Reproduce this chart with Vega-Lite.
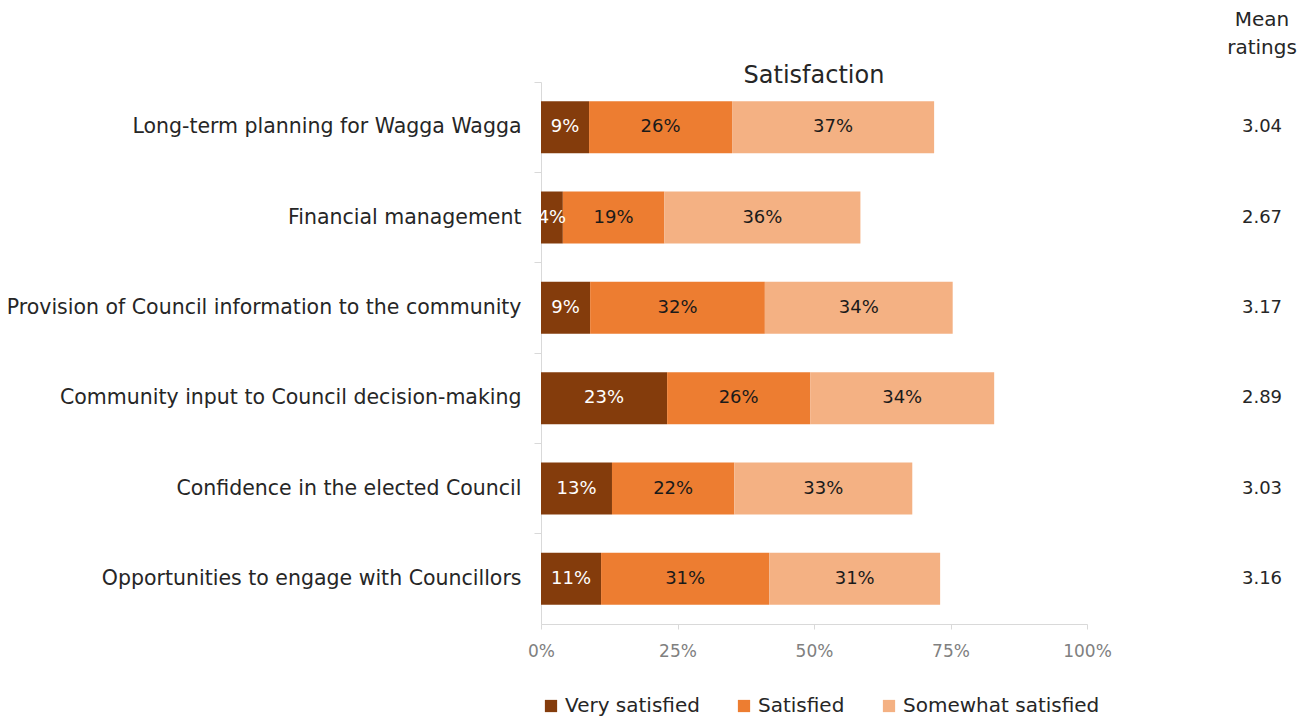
{
  "$schema": "https://vega.github.io/schema/vega-lite/v6.json",
  "background": "white",
  "padding": {"left": 6, "top": 10, "right": 5, "bottom": 0},
  "config": {
    "font": "DejaVu Sans",
    "view": {"stroke": null},
    "concat": {"spacing": 135}
  },
  "bounds": "flush",
  "datasets": {
    "sat": [
      {"item": "Long-term planning for Wagga Wagga", "level": "Very satisfied", "ord": 1, "pct": 0.088},
      {"item": "Long-term planning for Wagga Wagga", "level": "Satisfied", "ord": 2, "pct": 0.262},
      {"item": "Long-term planning for Wagga Wagga", "level": "Somewhat satisfied", "ord": 3, "pct": 0.370},
      {"item": "Financial management", "level": "Very satisfied", "ord": 1, "pct": 0.040},
      {"item": "Financial management", "level": "Satisfied", "ord": 2, "pct": 0.186},
      {"item": "Financial management", "level": "Somewhat satisfied", "ord": 3, "pct": 0.359},
      {"item": "Provision of Council information to the community", "level": "Very satisfied", "ord": 1, "pct": 0.090},
      {"item": "Provision of Council information to the community", "level": "Satisfied", "ord": 2, "pct": 0.320},
      {"item": "Provision of Council information to the community", "level": "Somewhat satisfied", "ord": 3, "pct": 0.344},
      {"item": "Community input to Council decision-making", "level": "Very satisfied", "ord": 1, "pct": 0.231},
      {"item": "Community input to Council decision-making", "level": "Satisfied", "ord": 2, "pct": 0.262},
      {"item": "Community input to Council decision-making", "level": "Somewhat satisfied", "ord": 3, "pct": 0.337},
      {"item": "Confidence in the elected Council", "level": "Very satisfied", "ord": 1, "pct": 0.130},
      {"item": "Confidence in the elected Council", "level": "Satisfied", "ord": 2, "pct": 0.224},
      {"item": "Confidence in the elected Council", "level": "Somewhat satisfied", "ord": 3, "pct": 0.326},
      {"item": "Opportunities to engage with Councillors", "level": "Very satisfied", "ord": 1, "pct": 0.110},
      {"item": "Opportunities to engage with Councillors", "level": "Satisfied", "ord": 2, "pct": 0.308},
      {"item": "Opportunities to engage with Councillors", "level": "Somewhat satisfied", "ord": 3, "pct": 0.313}
    ],
    "mean": [
      {"item": "Long-term planning for Wagga Wagga", "mean": 3.04},
      {"item": "Financial management", "mean": 2.67},
      {"item": "Provision of Council information to the community", "mean": 3.17},
      {"item": "Community input to Council decision-making", "mean": 2.89},
      {"item": "Confidence in the elected Council", "mean": 3.03},
      {"item": "Opportunities to engage with Councillors", "mean": 3.16}
    ]
  },
  "hconcat": [
    {
      "width": 546,
      "height": 542,
      "data": {"name": "sat"},
      "title": {"text": "Satisfaction", "fontSize": 24, "fontWeight": "normal", "color": "#262626", "offset": -6},
      "encoding": {
        "y": {
          "field": "item", "type": "nominal", "sort": null,
          "scale": {"paddingInner": 0, "paddingOuter": 0},
          "axis": {
            "title": null, "bandPosition": 0, "labelFontSize": 20.5, "labelColor": "#262626",
            "labelPadding": 13, "tickSize": 7, "tickColor": "#d9d9d9", "domainColor": "#d9d9d9",
            "labelLimit": 0
          }
        },
        "order": {"field": "ord", "type": "quantitative"}
      },
      "layer": [
        {
          "mark": {"type": "bar", "height": {"band": 0.576}},
          "encoding": {
            "x": {
              "field": "pct", "type": "quantitative", "stack": "zero", "scale": {"domain": [0, 1]},
              "axis": {
                "title": null, "format": ".0%", "values": [0, 0.25, 0.5, 0.75, 1], "grid": false,
                "labelFontSize": 17, "labelColor": "#808080", "labelFlush": false, "labelPadding": 14,
                "tickSize": 5, "tickColor": "#d9d9d9", "domainColor": "#d9d9d9"
              }
            },
            "color": {
              "field": "level", "type": "nominal",
              "scale": {"domain": ["Very satisfied", "Satisfied", "Somewhat satisfied"], "range": ["#843C0C", "#ED7D31", "#F4B183"]},
              "legend": {
                "title": null, "orient": "bottom", "direction": "horizontal", "symbolType": "square",
                "symbolSize": 150, "symbolStrokeWidth": 0, "labelFontSize": 20, "labelColor": "#262626",
                "columnPadding": 34, "offset": 37, "labelLimit": 0
              }
            }
          }
        },
        {
          "mark": {"type": "text", "fontSize": 18},
          "encoding": {
            "x": {"field": "pct", "type": "quantitative", "stack": "zero", "bandPosition": 0.5},
            "text": {"field": "pct", "format": ".0%"},
            "color": {"condition": {"test": "datum.level === 'Very satisfied'", "value": "white"}, "value": "#1a1a1a"}
          }
        }
      ]
    },
    {
      "width": 80,
      "height": 542,
      "data": {"name": "mean"},
      "title": {"text": ["Mean", "ratings"], "fontSize": 20, "fontWeight": "normal", "color": "#262626", "lineHeight": 28, "offset": 24},
      "mark": {"type": "text", "fontSize": 18, "color": "#262626"},
      "encoding": {
        "y": {"field": "item", "type": "nominal", "sort": null, "scale": {"paddingInner": 0, "paddingOuter": 0}, "axis": null},
        "text": {"field": "mean", "format": ".2f"}
      }
    }
  ]
}
